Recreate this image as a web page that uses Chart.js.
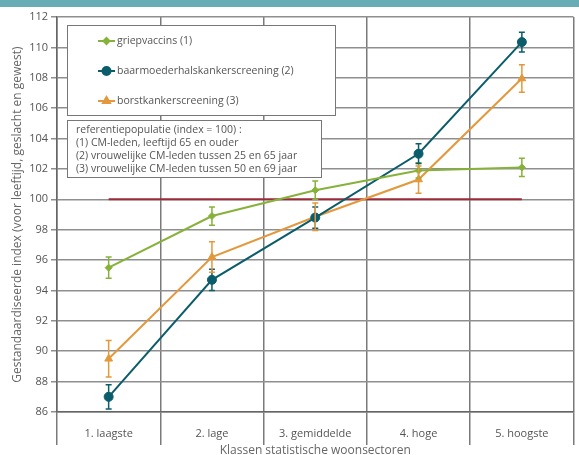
<!DOCTYPE html>
<html>
<head>
<meta charset="utf-8">
<script src="https://cdn.jsdelivr.net/npm/chart.js@4"></script>
<style>
  html, body { margin: 0; padding: 0; background: #fff; }
  #wrap { position: relative; width: 579px; height: 455px; }
  #topbar { position: absolute; left: 0; top: 0; width: 579px; height: 7px; background: #68adb5; }
</style>
</head>
<body>
<div id="wrap">
  <canvas id="myChart" width="579" height="455"></canvas>
  <div id="topbar"></div>
</div>
<script>
const labels = ['1. laagste', '2. lage', '3. gemiddelde', '4. hoge', '5. hoogste'];

const griep = [95.5, 98.9, 100.6, 101.9, 102.1];
const griepErr = [0.7, 0.6, 0.6, 0.5, 0.6];
const baarm = [87.0, 94.7, 98.8, 103.0, 110.35];
const baarmErr = [0.8, 0.7, 0.7, 0.65, 0.65];
const borst = [89.5, 96.2, 98.85, 101.3, 107.95];
const borstErr = [1.2, 1.0, 0.9, 0.9, 0.9];
const reference = [100, 100, 100, 100, 100];

const seriesNames = ['griepvaccins (1)', 'baarmoederhalskankerscreening (2)', 'borstkankerscreening (3)'];
const noteLines = [
  'referentiepopulatie (index = 100) :',
  '(1) CM-leden, leeftijd 65 en ouder',
  '(2) vrouwelijke CM-leden tussen 25 en 65 jaar',
  '(3) vrouwelijke CM-leden tussen 50 en 69 jaar'
];

const green = '#86b23a';
const teal = '#0b5d6c';
const orange = '#e3983c';
const red = '#9c2a3a';
const FONT = '"Open Sans", "Liberation Sans", sans-serif';

const errors = [griepErr, baarmErr, borstErr];
const markers = [
  { style: 'rectRot', r: 3.5 },
  { style: 'circle', r: 4.5 },
  { style: 'triangle', r: 4.5 }
];
const colors = [green, teal, orange];

const errorBars = {
  id: 'errorBars',
  afterDatasetsDraw(chart) {
    const ctx = chart.ctx;
    const y = chart.scales.y;
    for (let d = 0; d < 3; d++) {
      const meta = chart.getDatasetMeta(d);
      const vals = chart.data.datasets[d].data;
      ctx.save();
      ctx.strokeStyle = colors[d];
      ctx.lineWidth = 1.5;
      meta.data.forEach((pt, i) => {
        const top = y.getPixelForValue(vals[i] + errors[d][i]);
        const bot = y.getPixelForValue(vals[i] - errors[d][i]);
        ctx.beginPath();
        ctx.moveTo(pt.x, top); ctx.lineTo(pt.x, bot);
        ctx.moveTo(pt.x - 3, top); ctx.lineTo(pt.x + 3, top);
        ctx.moveTo(pt.x - 3, bot); ctx.lineTo(pt.x + 3, bot);
        ctx.stroke();
      });
      ctx.restore();
    }
  }
};

const boxes = {
  id: 'boxes',
  afterDraw(chart) {
    const ctx = chart.ctx;
    ctx.save();
    // legend box
    ctx.fillStyle = '#fff';
    ctx.strokeStyle = '#777';
    ctx.lineWidth = 1;
    ctx.fillRect(67, 25, 268, 90);
    ctx.strokeRect(67.5, 25.5, 268, 90);
    ctx.font = '10.5px ' + FONT;
    ctx.textBaseline = 'middle';
    const ys = [41, 71, 101];
    for (let i = 0; i < 3; i++) {
      ctx.strokeStyle = colors[i];
      ctx.lineWidth = 2;
      ctx.beginPath();
      ctx.moveTo(98, ys[i]); ctx.lineTo(115, ys[i]);
      ctx.stroke();
      Chart.helpers.drawPoint(ctx, {
        pointStyle: markers[i].style, radius: markers[i].r - 0.5, borderWidth: 1
      }, 106.5, ys[i]);
      ctx.fillStyle = colors[i];
      ctx.fill();
      ctx.fillStyle = '#555';
      ctx.fillText(seriesNames[i], 117, ys[i]);
    }
    // note box
    ctx.fillStyle = '#fff';
    ctx.strokeStyle = '#777';
    ctx.lineWidth = 1;
    ctx.fillRect(67, 120, 254, 57);
    ctx.strokeRect(67.5, 120.5, 254, 57);
    ctx.fillStyle = '#555';
    const ny = [130, 143.5, 156.5, 169.5];
    noteLines.forEach((t, i) => ctx.fillText(t, 76, ny[i]));
    ctx.restore();
  }
};

const data = {
  labels: labels,
  datasets: [
    {
      label: seriesNames[0], data: griep, borderColor: green, backgroundColor: green,
      borderWidth: 2, pointStyle: 'rectRot', pointRadius: markers[0].r, pointBorderWidth: 1, order: 1
    },
    {
      label: seriesNames[1], data: baarm, borderColor: teal, backgroundColor: teal,
      borderWidth: 2, pointStyle: 'circle', pointRadius: markers[1].r, pointBorderWidth: 1, order: 2
    },
    {
      label: seriesNames[2], data: borst, borderColor: orange, backgroundColor: orange,
      borderWidth: 2, pointStyle: 'triangle', pointRadius: markers[2].r, pointBorderWidth: 1, order: 3
    },
    {
      label: 'referentie', data: reference, borderColor: red,
      borderWidth: 2, pointRadius: 0, order: 10
    }
  ]
};

const config = {
  type: 'line',
  data,
  options: {
    responsive: false,
    animation: false,
    layout: { padding: { top: 17, right: 2, left: 0, bottom: 0 } },
    plugins: { legend: { display: false }, tooltip: { enabled: false } },
    scales: {
      x: {
        offset: true,
        grid: { offset: true, color: '#7a7a7a', lineWidth: 1.5, tickLength: 33 },
        border: { color: '#666', width: 1.5 },
        ticks: { color: '#555', font: { family: FONT, size: 11 }, padding: -18 },
        title: {
          display: true, text: 'Klassen statistische woonsectoren', color: '#666',
          font: { family: FONT, size: 12 }, padding: { top: 0, bottom: -3 }
        },
        afterFit(s) { s.height = 43; }
      },
      y: {
        min: 86, max: 112,
        ticks: { stepSize: 2, color: '#555', font: { family: FONT, size: 11 }, padding: 3 },
        grid: { color: '#8f8f8f', lineWidth: 1.5, tickLength: 6 },
        border: { color: '#666', width: 1.5 },
        title: {
          display: true, text: 'Gestandaardiseerde index (voor leeftijd, geslacht en gewest)',
          color: '#666', font: { family: FONT, size: 12 }, padding: { top: 10, bottom: 0 }
        },
        afterFit(s) { s.width = 57; }
      }
    }
  },
  plugins: [errorBars, boxes]
};

const myChart = new Chart(
  document.getElementById('myChart'),
  config
);
</script>
</body>
</html>
